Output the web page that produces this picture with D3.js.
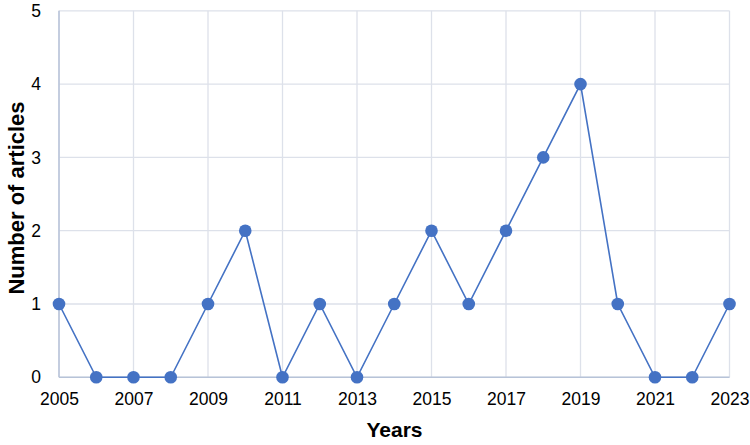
<!DOCTYPE html>
<html><head><meta charset="utf-8">
<script src="https://cdn.jsdelivr.net/npm/d3@7"></script>
<style>body{margin:0;background:#fff}svg{display:block;font-family:"Liberation Sans",Arial,sans-serif}</style>
</head><body><svg id="c" width="750" height="445"></svg>
<script>
const years = [2005,2006,2007,2008,2009,2010,2011,2012,2013,2014,2015,2016,2017,2018,2019,2020,2021,2022,2023];
const articles = [1,0,0,0,1,2,0,1,0,1,2,1,2,3,4,1,0,0,1];
const xTicks = [2005,2007,2009,2011,2013,2015,2017,2019,2021,2023];
const yTicks = [0,1,2,3,4,5];

const svg = d3.select("#c");
const m = {l:59, r:729.5, t:10.8, b:377.3};
const x = d3.scaleLinear().domain([2005,2023]).range([m.l, m.r]);
const y = d3.scaleLinear().domain([0,5]).range([m.b, m.t]);

const grid = svg.append("g");
grid.selectAll(".vg").data(xTicks).join("line")
  .attr("x1",d=>x(d)).attr("x2",d=>x(d)).attr("y1",m.t).attr("y2",m.b)
  .attr("stroke","#dde1ea").attr("stroke-width",1.3);
grid.selectAll(".hg").data(yTicks).join("line")
  .attr("x1",m.l).attr("x2",m.r).attr("y1",d=>y(d)).attr("y2",d=>y(d))
  .attr("stroke","#dde1ea").attr("stroke-width",1.3);
svg.append("line").attr("x1",m.l).attr("x2",m.l).attr("y1",m.t).attr("y2",m.b).attr("stroke","#b7c3d8").attr("stroke-width",1.5);
svg.append("line").attr("x1",m.l).attr("x2",m.r).attr("y1",m.b).attr("y2",m.b).attr("stroke","#b7c3d8").attr("stroke-width",1.5);

const xa = svg.append("g").attr("transform",`translate(0,${m.b})`)
  .call(d3.axisBottom(x).tickValues(xTicks).tickFormat(d3.format("d")).tickSize(0).tickPadding(15));
xa.select(".domain").remove();
xa.selectAll("text").attr("font-size",17.5).attr("fill","#000").attr("font-family","Liberation Sans, Arial, sans-serif");

const ya = svg.append("g").attr("transform",`translate(${m.l},0)`)
  .call(d3.axisLeft(y).tickValues(yTicks).tickFormat(d3.format("d")).tickSize(0).tickPadding(18));
ya.select(".domain").remove();
ya.selectAll("text").attr("font-size",17.5).attr("fill","#000").attr("font-family","Liberation Sans, Arial, sans-serif");

const pts = years.map((d,i)=>({yr:d, v:articles[i]}));
svg.append("path").datum(pts)
  .attr("d", d3.line().x(d=>x(d.yr)).y(d=>y(d.v)))
  .attr("fill","none").attr("stroke","#4472c4").attr("stroke-width",1.6);
svg.selectAll(".pt").data(pts).join("circle")
  .attr("cx",d=>x(d.yr)).attr("cy",d=>y(d.v)).attr("r",6.3).attr("fill","#4472c4");

svg.append("text").attr("x",394.5).attr("y",437).attr("text-anchor","middle")
  .attr("font-size",21).attr("font-weight","bold").text("Years");
svg.append("text").attr("transform",`translate(24,198) rotate(-90)`).attr("text-anchor","middle")
  .attr("font-size",22).attr("font-weight","bold").text("Number of articles");
</script></body></html>
